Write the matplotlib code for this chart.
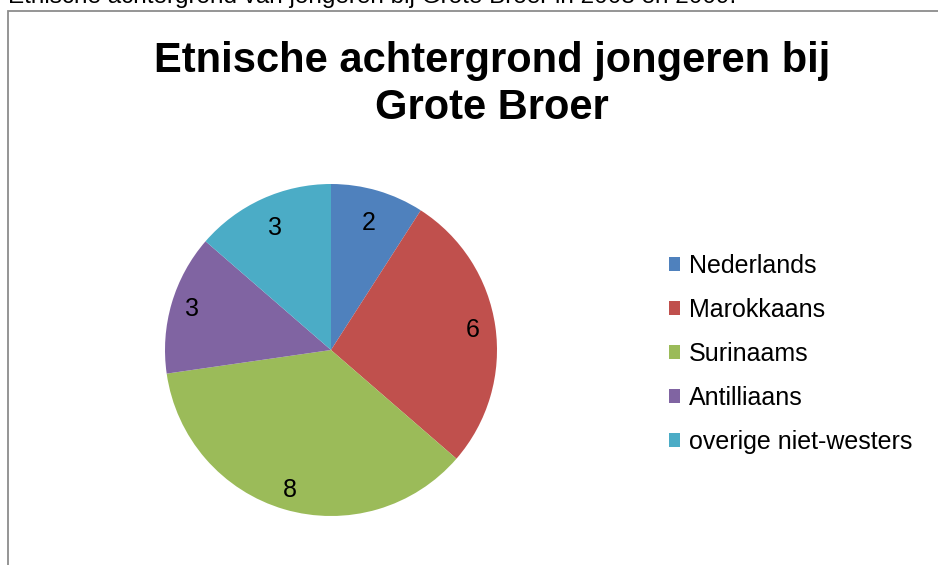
import matplotlib
matplotlib.use("Agg")
import matplotlib.pyplot as plt
import numpy as np
from matplotlib.patches import Rectangle

categories = ["Nederlands", "Marokkaans", "Surinaams", "Antilliaans", "overige niet-westers"]
values = [2, 6, 8, 3, 3]
colors = ["#4F81BD", "#C0504D", "#9BBB59", "#8064A2", "#4BACC6"]
caption = "Etnische achtergrond van jongeren bij Grote Broer in 2008 en 2009."
title_lines = ["Etnische achtergrond jongeren bij", "Grote Broer"]
label_dist = [0.80, 0.86, 0.88, 0.87, 0.81]

plt.rcParams['font.family'] = ['Liberation Sans', 'DejaVu Sans']

W, H = 938, 565
fig = plt.figure(figsize=(W / 100, H / 100), dpi=100)
fig.patch.set_facecolor("white")

# chart border (partially visible)
fig.add_artist(Rectangle((7.5 / W, -0.1), 1.2, 1 - 11.5 / H + 0.1, transform=fig.transFigure,
                         fill=False, edgecolor="#8c8c8c", linewidth=1.3))

# cut-off caption at the top
fig.text(8 / W, 1 - 3.5 / H, caption, fontsize=17.5, va="baseline", ha="left", color="black")

# title
fig.text(492 / W, 1 - 72 / H, title_lines[0], fontsize=30, fontweight="bold", ha="center", va="baseline")
fig.text(492 / W, 1 - 119 / H, title_lines[1], fontsize=30, fontweight="bold", ha="center", va="baseline")

cx, cy, r = 331, 350, 166
ax = fig.add_axes([(cx - r) / W, (H - cy - r) / H, 2 * r / W, 2 * r / H])
total = sum(values)
wedges, texts, autotexts = ax.pie(
    values, colors=colors, startangle=90, counterclock=False, radius=1,
    autopct=lambda p: f"{round(p * total / 100)}", pctdistance=0.8,
    wedgeprops=dict(linewidth=0), textprops=dict(fontsize=18, color="black"))
for w, t, d in zip(wedges, autotexts, label_dist):
    ang = np.deg2rad((w.theta1 + w.theta2) / 2)
    t.set_position((d * np.cos(ang), d * np.sin(ang)))
ax.set_xlim(-1, 1)
ax.set_ylim(-1, 1)
ax.set_aspect("equal")
ax.axis("off")

fig.legend(wedges, categories, loc="upper left", bbox_to_anchor=(669 / W, 1 - 254 / H),
           frameon=False, fontsize=18, handlelength=0.45, handleheight=0.45,
           handletextpad=0.33, labelspacing=0.80, borderpad=0, borderaxespad=0)

fig.savefig("out.png", dpi=100, facecolor="white")
